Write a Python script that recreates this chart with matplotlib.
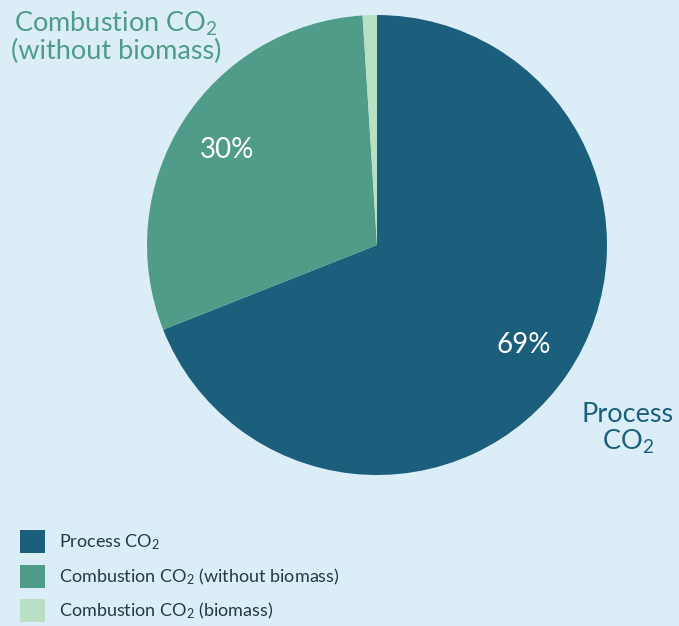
import numpy as np
import matplotlib
matplotlib.use("Agg")
import matplotlib.pyplot as plt
from matplotlib.patches import Patch

plt.rcParams['font.family'] = ['Lato', 'DejaVu Sans']
plt.rcParams['mathtext.fontset'] = 'custom'
plt.rcParams['mathtext.rm'] = 'Lato'
plt.rcParams['mathtext.it'] = 'Lato'

# shares of CO2 emissions
labels = ["Process CO$_2$", "Combustion CO$_2$ (without biomass)", "Combustion CO$_2$ (biomass)"]
values = [69, 30, 1]
colors = ["#1c5f7c", "#4f9c88", "#b9e0c4"]
pct_text = ["69%", "30%", ""]

bg = "#dbeef7"

fig = plt.figure(figsize=(6.79, 6.26), dpi=100, facecolor=bg)
ax = fig.add_axes([0.2165, 0.2412, 0.6775, 0.7348])
ax.set_facecolor(bg)

wedges, _ = ax.pie(values, colors=colors, startangle=90, counterclock=False,
                   radius=1, wedgeprops=dict(linewidth=0))

# percentage labels inside the slices
for w, t in zip(wedges, pct_text):
    if not t:
        continue
    ang = np.deg2rad((w.theta1 + w.theta2) / 2)
    ax.text(0.77 * np.cos(ang), 0.77 * np.sin(ang), t, color="white",
            fontsize=20, ha="center", va="center")

# outside labels
ax.text(1.09, -0.80, "Process\nCO$_2$", color=colors[0], fontsize=19.5,
        ha="center", va="center", linespacing=1.05)
ax.text(-1.135, 0.904, "Combustion CO$_2$\n(without biomass)", color=colors[1],
        fontsize=19.5, ha="center", va="center", linespacing=1.05)

ax.set_xlim(-1, 1)
ax.set_ylim(-1, 1)
ax.set_aspect("equal")
ax.axis("off")

handles = [Patch(facecolor=c, edgecolor="none") for c in colors]
fig.legend(handles, labels, loc="upper left", bbox_to_anchor=(0.0295, 0.153),
           frameon=False, fontsize=13, handlelength=1.4, handleheight=1.6,
           handletextpad=0.75, labelspacing=0.62, borderpad=0, borderaxespad=0,
           labelcolor="#1f3a4a")

fig.savefig("out.png", dpi=100, facecolor=bg)
